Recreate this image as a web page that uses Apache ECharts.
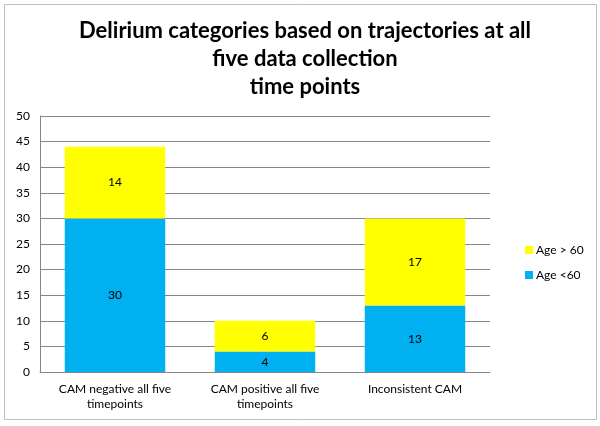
<!DOCTYPE html>
<html><head><meta charset="utf-8">
<script src="https://cdn.jsdelivr.net/npm/echarts@6/dist/echarts.min.js"></script>
<style>html,body{margin:0;padding:0;background:#fff}#c{width:600px;height:426px}</style>
</head><body><div id="c"></div>
<script>
const categories = ['CAM negative all five\ntimepoints', 'CAM positive all five\ntimepoints', 'Inconsistent CAM'];
const ageUnder60 = [30, 4, 13];
const ageOver60 = [14, 6, 17];
const yTicks = [0, 50, 5];

const chart = echarts.init(document.getElementById('c'), null, {renderer: 'canvas'});
const font = 'Lato, "Open Sans", sans-serif';
chart.setOption({
  animation: false,
  backgroundColor: '#fff',
  graphic: [{type: 'rect', shape: {x: 4.5, y: 4.5, width: 592, height: 415}, style: {fill: 'none', stroke: '#bfbfbf', lineWidth: 1}}],
  title: {
    text: 'Delirium categories based on trajectories at all\nfive data collection\ntime points',
    left: 300, textAlign: 'center', top: 12,
    textStyle: {fontFamily: font, fontWeight: 'bold', fontSize: 22, lineHeight: 28, color: '#000'}
  },
  legend: {
    orient: 'vertical', left: 520, top: 239, itemWidth: 8, itemHeight: 8, itemGap: 13,
    icon: 'rect',
    data: ['Age > 60', 'Age <60'],
    textStyle: {fontFamily: font, fontSize: 12, color: '#000', padding: [0, 0, 0, -2]}
  },
  grid: {left: 40, right: 110, top: 116, bottom: 54},
  xAxis: {
    type: 'category', data: categories,
    axisLine: {lineStyle: {color: '#868686'}},
    axisTick: {show: false},
    axisLabel: {fontFamily: font, fontSize: 12, color: '#000', lineHeight: 15, margin: 10}
  },
  yAxis: {
    type: 'value', min: yTicks[0], max: yTicks[1], interval: yTicks[2],
    axisLine: {show: true, lineStyle: {color: '#868686'}},
    axisTick: {show: false},
    axisLabel: {fontFamily: font, fontSize: 12, color: '#000', margin: 10},
    splitLine: {lineStyle: {color: '#868686'}}
  },
  series: [
    {name: 'Age <60', type: 'bar', stack: 's', data: ageUnder60, barWidth: '67%',
     itemStyle: {color: '#00B0F0'},
     label: {show: true, position: 'inside', fontFamily: font, fontSize: 12, color: '#000'}},
    {name: 'Age > 60', type: 'bar', stack: 's', data: ageOver60, barWidth: '67%',
     itemStyle: {color: '#FFFF00'},
     label: {show: true, position: 'inside', fontFamily: font, fontSize: 12, color: '#000'}}
  ]
});
</script></body></html>
